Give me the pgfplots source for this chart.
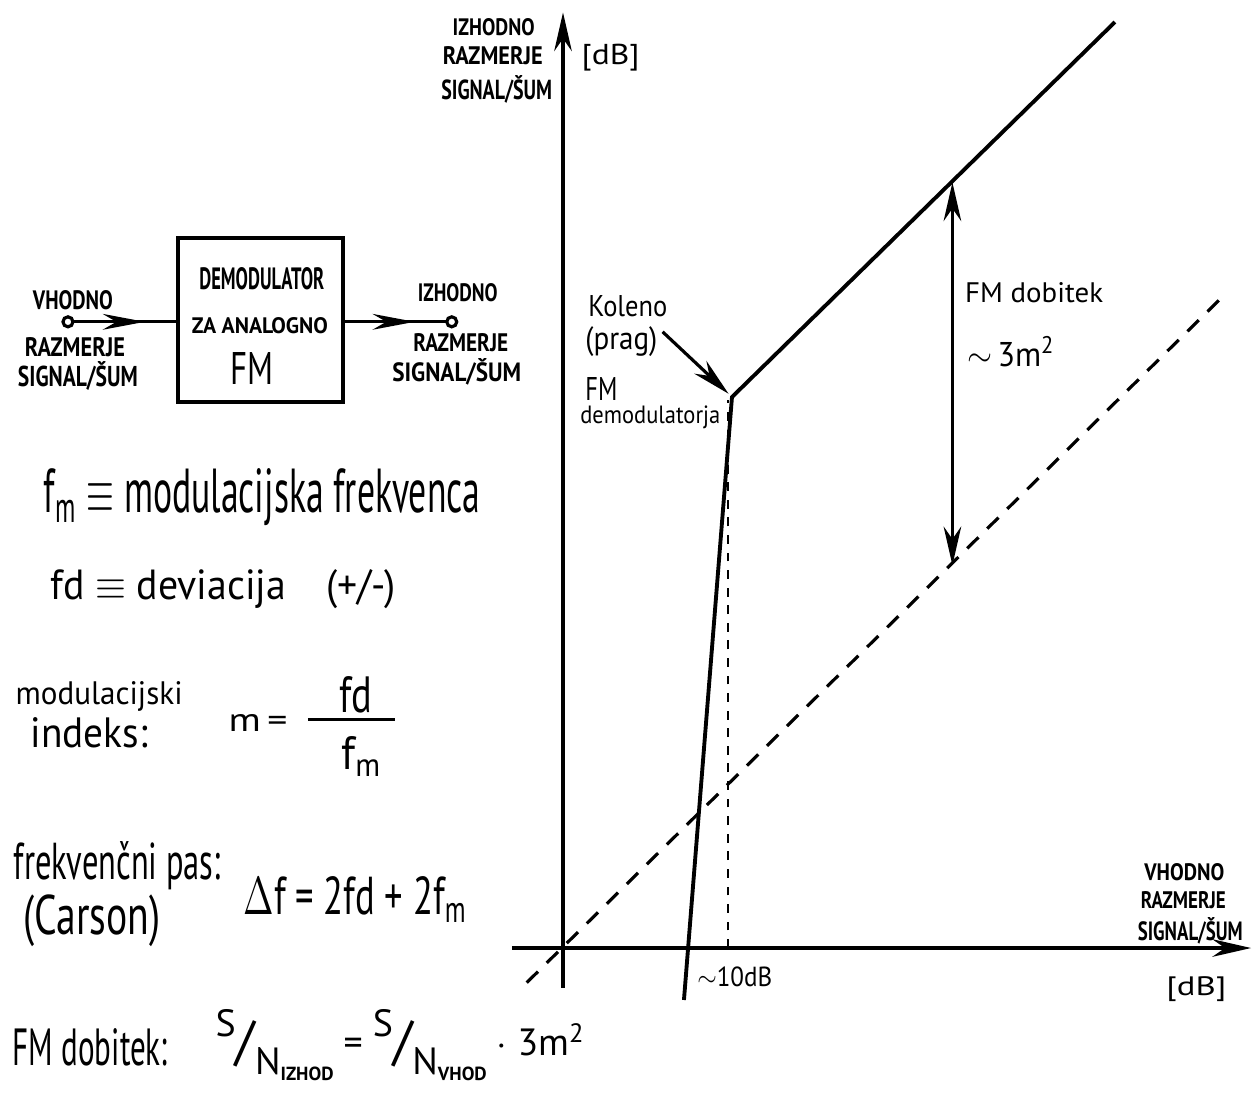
\documentclass[border=0pt]{standalone}
\usepackage{pgfplots}
\pgfplotsset{compat=1.18}
\usepackage{fontspec}
\setmainfont{PT Sans}
\usetikzlibrary{arrows.meta}

\newlength\px
\setlength\px{0.01cm}
% text squeezed to a given width and height (in px units)
\newcommand\T[3]{\resizebox{#1\px}{#2\px}{#3}}
% same, with height measured over height+depth
\newcommand\TT[3]{\resizebox*{#1\px}{#2\px}{#3}}
% bold capitals
\newcommand\C[3]{\resizebox{#1\px}{#2\px}{\bfseries #3}}
% signal-to-noise ratio written as S over N
\newcommand\SN[1]{\raisebox{5pt}{S}\raisebox{-1pt}{\Large /}\raisebox{-5pt}{N\raisebox{-1.5pt}{\tiny\bfseries #1}}}

\begin{document}
\begin{tikzpicture}
\begin{axis}[
  scale only axis, width=12.54cm, height=10.93cm,
  xmin=-34.121, xmax=41.879, ymin=-8.788, ymax=57.455,
  axis lines=none, clip=false,
]
% axes of the characteristic
\addplot[black, line width=1pt, -{Stealth[length=11pt,width=5pt]}] coordinates {(0,-2.4) (0,56.7)};
\addplot[black, line width=1pt, -{Stealth[length=11pt,width=5pt]}] coordinates {(-3.1,0) (41.7,0)};
% output = input (no gain)
\addplot[black, line width=0.9pt, dash pattern=on 4.5pt off 3.5pt] coordinates {(-2.2,-2.1) (40.1,39.6)};
% FM demodulator characteristic with threshold knee
\addplot[black, line width=1.1pt] coordinates {(7.33,-3.15) (10.24,33.39) (33.45,56.12)};
% threshold marker
\addplot[black, line width=0.8pt, dash pattern=on 2.5pt off 2.5pt] coordinates {(10.0,0) (10.0,33.2)};
% FM gain
\addplot[black, line width=1pt, {Stealth[length=11pt,width=5pt]}-{Stealth[length=11pt,width=5pt]}] coordinates {(23.6,23.2) (23.6,46.4)};
\coordinate (TL) at (rel axis cs:0,1);
\end{axis}

\begin{scope}[shift={(TL)}, x=0.01cm, y=-0.01cm, every node/.style={inner sep=0pt}]
  % block diagram
  \draw[line width=1pt] (178,238) rectangle (343,402);
  \draw[line width=0.9pt] (68,322) circle (5);
  \draw[line width=0.9pt] (73,322) -- (178,322);
  \draw[line width=0.9pt, -{Stealth[length=12pt,width=4.5pt]}] (100,322) -- (145,322);
  \draw[line width=0.9pt] (343,322) -- (447,322);
  \draw[line width=0.9pt, -{Stealth[length=12pt,width=4.5pt]}] (370,322) -- (415,322);
  \draw[line width=0.9pt] (452,322) circle (5);

  \node at (73,300) {\C{80}{19}{VHODNO}};
  \node at (75,347) {\C{100}{19}{RAZMERJE}};
  \node at (78,376) {\C{120}{25}{SIGNAL/ŠUM}};
  \node at (262,279) {\C{125}{22}{DEMODULATOR}};
  \node at (260,326) {\C{136}{16}{ZA ANALOGNO}};
  \node at (252,369) {\T{43}{32}{FM}};
  \node at (458,293) {\C{80}{18}{IZHODNO}};
  \node at (461,343) {\C{95}{18}{RAZMERJE}};
  \node at (457,372) {\C{129}{23}{SIGNAL/ŠUM}};

  % definitions
  \node[anchor=base west] at (43,513) {\T{437}{44}{f\textsubscript{m} $\equiv$ modulacijska frekvenca}};
  \node[anchor=base west] at (50,600) {\T{345}{30}{fd $\equiv$ deviacija\quad(+/-)}};
  \node[anchor=base west] at (15,705) {\T{167}{23}{modulacijski}};
  \node[anchor=base west] at (30,748) {\T{117}{30}{indeks:}};
  \node[anchor=base west] at (228,732) {\T{59}{17}{m\,=}};
  \draw[line width=1pt] (308,720) -- (395,720);
  \node[anchor=base] at (356,713) {\T{33}{36}{fd}};
  \node[anchor=base] at (362,770) {\T{41}{33}{f\textsubscript{m}}};
  \node[anchor=base west] at (13,880) {\T{207}{38}{frekvenčni pas:}};
  \node[anchor=west] at (23,921) {\TT{137}{52}{(Carson)}};
  \node[anchor=base west] at (243,915) {\T{224}{38}{$\Delta$f = 2fd + 2f\textsubscript{m}}};
  \node[anchor=base west] at (12,1066) {\T{155}{37}{FM dobitek:}};
  \node[anchor=west] at (215,1046) {\resizebox{370\px}{!}{\SN{IZHOD}\ =\ \SN{VHOD}\ $\cdot$\ 3m\textsuperscript{2}}};

  % axis titles
  \node at (494,27) {\C{82}{17}{IZHODNO}};
  \node at (493,56) {\C{100}{18}{RAZMERJE}};
  \node at (497,89) {\C{111}{24}{SIGNAL/ŠUM}};
  \node at (611,58) {\TT{58}{27}{[dB]}};
  \node at (1185,873) {\C{80}{17}{VHODNO}};
  \node at (1184,901) {\C{85}{17}{RAZMERJE}};
  \node at (1191,931) {\C{105}{23}{SIGNAL/ŠUM}};
  \node at (1197,990) {\TT{60}{25}{[dB]}};

  % annotations
  \node[anchor=base west] at (588,317) {\T{79}{21}{Koleno}};
  \node[anchor=west] at (585,342) {\TT{72}{30}{(prag)}};
  \node[anchor=west] at (585,389) {\T{32}{23}{FM}};
  \node[anchor=west] at (580,418) {\TT{140}{23}{demodulatorja}};
  \draw[line width=0.9pt, -{Stealth[length=11pt,width=5pt]}] (663,332) -- (729,394);
  \node[anchor=base west] at (965,303) {\T{138}{20}{FM dobitek}};
  \node[anchor=west] at (967,352) {\TT{88}{30}{$\sim$\,3m\textsuperscript{2}}};
  \node[anchor=west] at (697,977) {\TT{75}{20}{$\sim$10dB}};
\end{scope}
\pgfresetboundingbox
\path (TL) ++(0,-10.93cm) rectangle ++(12.54cm,10.93cm);
\end{tikzpicture}
\end{document}
